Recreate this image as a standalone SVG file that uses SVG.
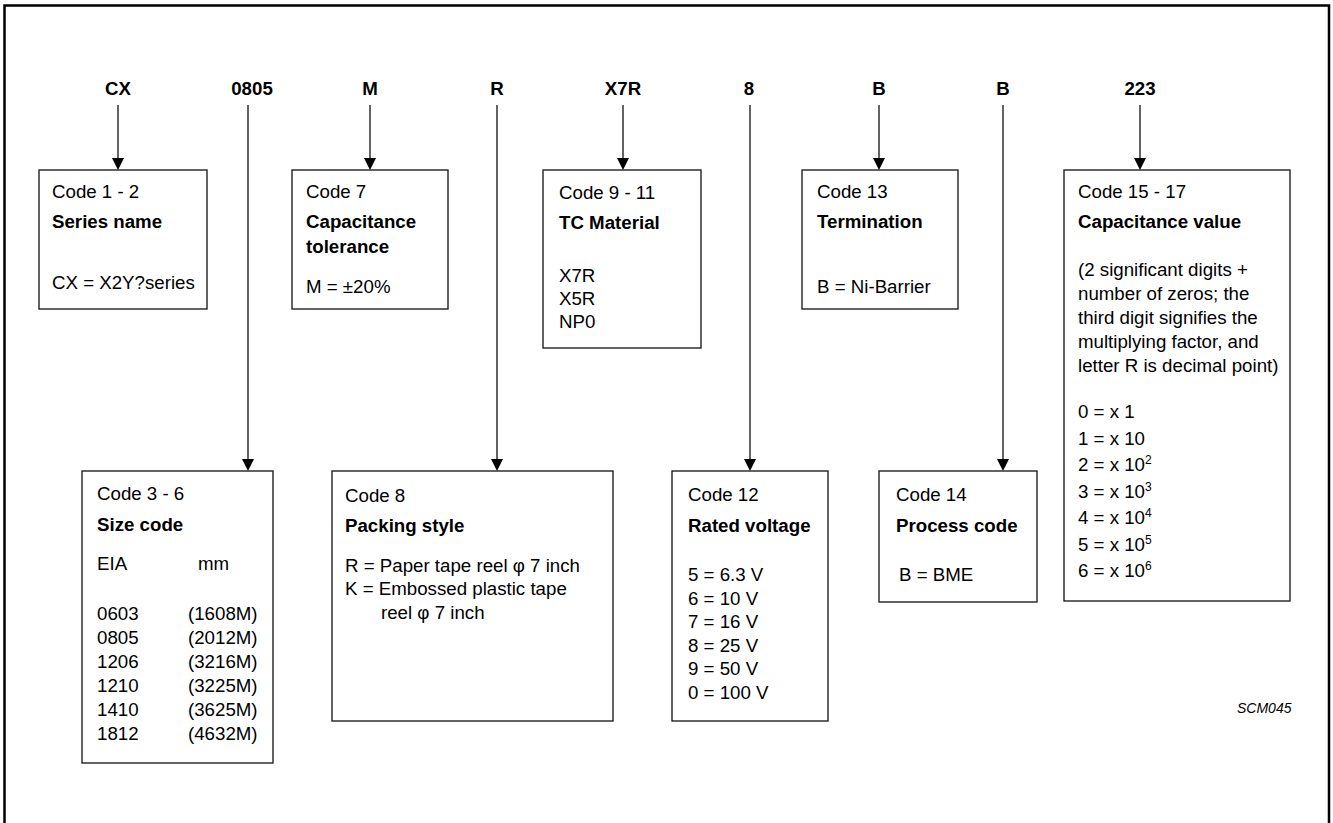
<svg xmlns="http://www.w3.org/2000/svg" width="1333" height="823" viewBox="0 0 1333 823">
<style>
  text { font-family: "Liberation Sans", Arial, Helvetica, sans-serif; font-size: 18.7px; fill: #000; }
  .lbl { font-weight: bold; text-anchor: middle; }
  .b { font-weight: bold; }
  .box { fill: #fff; stroke: #222; stroke-width: 1.4; }
  .con { stroke: #222; stroke-width: 1.4; fill: none; marker-end: url(#ah); }
  .sup { font-size: 12px; }
  .tag { font-size: 14px; font-style: italic; }
</style>
<defs>
  <marker id="ah" markerUnits="userSpaceOnUse" markerWidth="12" markerHeight="12" viewBox="0 0 12 12" refX="6" refY="6" orient="auto">
    <path d="M0,0 L12,6 L0,12 z" fill="#000"/>
  </marker>
</defs>
<rect x="0" y="0" width="1333" height="823" fill="#fff"/>
<rect x="4.5" y="5.5" width="1324.5" height="840" fill="none" stroke="#000" stroke-width="2.5"/>

<g id="labels">
  <text class="lbl" x="118" y="95">CX</text>
  <text class="lbl" x="252" y="95">0805</text>
  <text class="lbl" x="370" y="95">M</text>
  <text class="lbl" x="497" y="95">R</text>
  <text class="lbl" x="623" y="95">X7R</text>
  <text class="lbl" x="749" y="95">8</text>
  <text class="lbl" x="879" y="95">B</text>
  <text class="lbl" x="1003" y="95">B</text>
  <text class="lbl" x="1140" y="95">223</text>
</g>

<g id="connectors">
  <line class="con" x1="118" y1="105" x2="118" y2="164"/>
  <line class="con" x1="248" y1="105" x2="248" y2="465"/>
  <line class="con" x1="370" y1="105" x2="370" y2="164"/>
  <line class="con" x1="497" y1="105" x2="497" y2="465"/>
  <line class="con" x1="623" y1="105" x2="623" y2="164"/>
  <line class="con" x1="750" y1="105" x2="750" y2="465"/>
  <line class="con" x1="879" y1="105" x2="879" y2="164"/>
  <line class="con" x1="1003" y1="105" x2="1003" y2="465"/>
  <line class="con" x1="1140" y1="105" x2="1140" y2="164"/>
</g>

<g id="node-code1-2">
  <rect class="box" x="39" y="170" width="168" height="139"/>
  <text x="52" y="198">Code 1 - 2</text>
  <text class="b" x="52" y="228">Series name</text>
  <text x="52" y="289">CX = X2Y?series</text>
</g>

<g id="node-code7">
  <rect class="box" x="292" y="170" width="156" height="139"/>
  <text x="306" y="198">Code 7</text>
  <text class="b" x="306" y="228">Capacitance</text>
  <text class="b" x="306" y="253">tolerance</text>
  <text x="306" y="293">M = ±20%</text>
</g>

<g id="node-code9-11">
  <rect class="box" x="543" y="170" width="158" height="178"/>
  <text x="559" y="199">Code 9 - 11</text>
  <text class="b" x="559" y="229">TC Material</text>
  <text x="559" y="282">X7R</text>
  <text x="559" y="305">X5R</text>
  <text x="559" y="328">NP0</text>
</g>

<g id="node-code13">
  <rect class="box" x="802" y="170" width="156" height="139"/>
  <text x="817" y="198">Code 13</text>
  <text class="b" x="817" y="228">Termination</text>
  <text x="817" y="293">B = Ni-Barrier</text>
</g>

<g id="node-code15-17">
  <rect class="box" x="1064" y="170" width="226" height="431"/>
  <text x="1078" y="198">Code 15 - 17</text>
  <text class="b" x="1078" y="228">Capacitance value</text>
  <text x="1078" y="276">(2 significant digits +</text>
  <text x="1078" y="300">number of zeros; the</text>
  <text x="1078" y="324">third digit signifies the</text>
  <text x="1078" y="348">multiplying factor, and</text>
  <text x="1078" y="372">letter R is decimal point)</text>
  <text x="1078" y="418">0 = x 1</text>
  <text x="1078" y="444.5">1 = x 10</text>
  <text x="1078" y="471">2 = x 10<tspan class="sup" dy="-7">2</tspan></text>
  <text x="1078" y="497.5">3 = x 10<tspan class="sup" dy="-7">3</tspan></text>
  <text x="1078" y="524">4 = x 10<tspan class="sup" dy="-7">4</tspan></text>
  <text x="1078" y="550.5">5 = x 10<tspan class="sup" dy="-7">5</tspan></text>
  <text x="1078" y="577">6 = x 10<tspan class="sup" dy="-7">6</tspan></text>
</g>

<g id="node-code3-6">
  <rect class="box" x="82" y="471" width="191" height="292"/>
  <text x="97" y="500">Code 3 - 6</text>
  <text class="b" x="97" y="531">Size code</text>
  <text x="97" y="570">EIA</text>
  <text x="198" y="570">mm</text>
  <text x="97" y="620">0603</text><text x="188" y="620">(1608M)</text>
  <text x="97" y="644">0805</text><text x="188" y="644">(2012M)</text>
  <text x="97" y="668">1206</text><text x="188" y="668">(3216M)</text>
  <text x="97" y="692">1210</text><text x="188" y="692">(3225M)</text>
  <text x="97" y="716">1410</text><text x="188" y="716">(3625M)</text>
  <text x="97" y="740">1812</text><text x="188" y="740">(4632M)</text>
</g>

<g id="node-code8">
  <rect class="box" x="332" y="471" width="281" height="250"/>
  <text x="345" y="502">Code 8</text>
  <text class="b" x="345" y="532">Packing style</text>
  <text x="345" y="572">R = Paper tape reel φ 7 inch</text>
  <text x="345" y="595">K = Embossed plastic tape</text>
  <text x="381" y="619">reel φ 7 inch</text>
</g>

<g id="node-code12">
  <rect class="box" x="672" y="471" width="156" height="250"/>
  <text x="688" y="501">Code 12</text>
  <text class="b" x="688" y="532">Rated voltage</text>
  <text x="688" y="581">5 = 6.3 V</text>
  <text x="688" y="605">6 = 10 V</text>
  <text x="688" y="628">7 = 16 V</text>
  <text x="688" y="652">8 = 25 V</text>
  <text x="688" y="675">9 = 50 V</text>
  <text x="688" y="699">0 = 100 V</text>
</g>

<g id="node-code14">
  <rect class="box" x="879" y="471" width="158" height="131"/>
  <text x="896" y="501">Code 14</text>
  <text class="b" x="896" y="532">Process code</text>
  <text x="899" y="581">B = BME</text>
</g>

<text class="tag" x="1237" y="713">SCM045</text>
</svg>
